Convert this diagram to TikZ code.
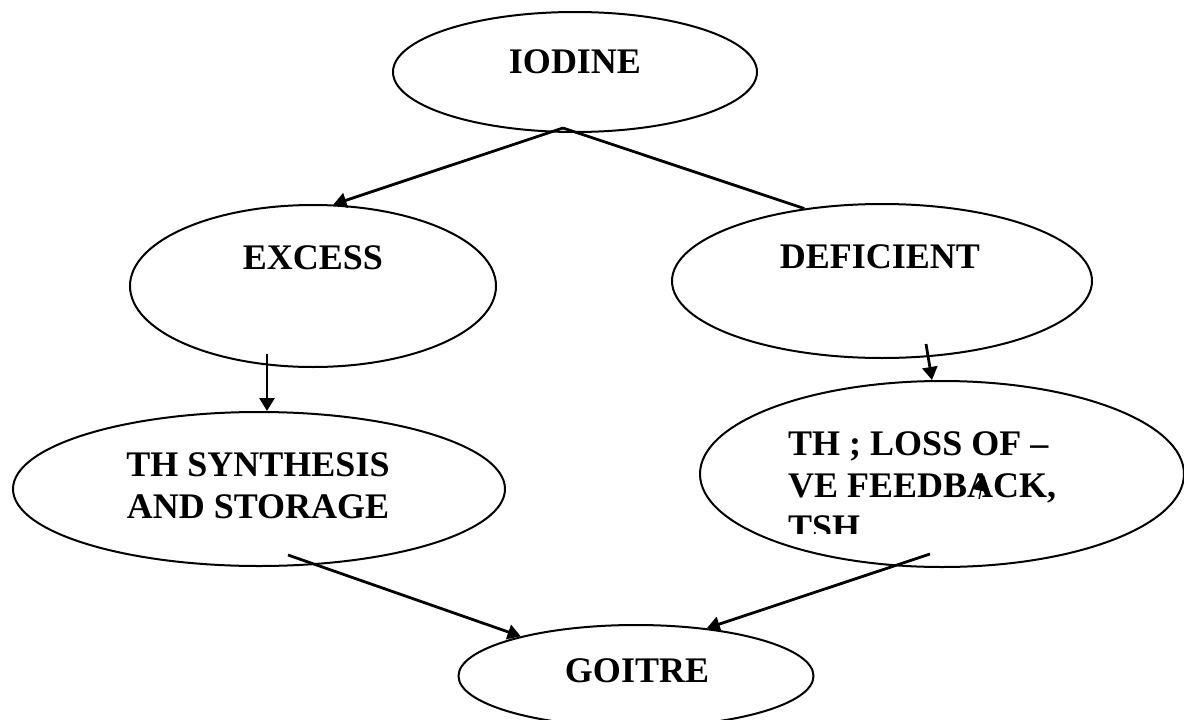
\documentclass[tikz,border=0pt]{standalone}
\usepackage{fontspec}
\setmainfont{Liberation Serif}
\usetikzlibrary{shapes.geometric,arrows.meta}

\begin{document}
\begin{tikzpicture}[x=1pt,y=-1pt,>={Triangle[width=15pt,length=13pt]},
    oval/.style={draw,ellipse,line width=2pt,inner sep=0pt},
    word/.style={font=\bfseries\fontsize{36}{42}\selectfont,inner sep=0pt},
    link/.style={line width=2.8pt}]
  \useasboundingbox (0,0) rectangle (1184,720);

  % Ovals, sized and placed by hand.
  \node[oval,minimum width=364pt,minimum height=120pt] (iodine) at (575,72) {};
  \node[oval,minimum width=366pt,minimum height=162pt] (excess) at (313,286) {};
  \node[oval,minimum width=420pt,minimum height=154pt] (deficient) at (882,281) {};
  \node[oval,minimum width=492pt,minimum height=154pt] (thsyn) at (259,489) {};
  \node[oval,minimum width=484pt,minimum height=186pt] (thloss) at (942,474) {};
  \node[oval,minimum width=355pt,minimum height=102pt] (goitre) at (636,676) {};

  \node[word] (iodineText) at (575,62) {IODINE};
  \node[word] (excessText) at (313,258) {EXCESS};
  \node[word] (deficientText) at (880,257) {DEFICIENT};
  \node[word,align=center] (thsynText) at (258,486) {TH SYNTHESIS\\AND STORAGE};
  \node[word] (goitreText) at (637,671) {GOITRE};
  \begin{scope}
  \clip (700,380) rectangle (1184,533);
  \node[word,align=left,anchor=north west] (thlossText) at (788,431)
    {TH ; LOSS OF --\\VE FEEDBACK,\\TSH};
  \end{scope}
  \draw[-{Triangle[width=18pt,length=16pt]},line width=1.4pt] (979,499) -- (984,475);

  \coordinate (split) at ([xshift=-12pt,yshift=5pt]iodine.south);
  \draw[link,->] (split) -- (excess.76);
  \draw[link] (split) -- (deficient.137);
  \draw[link,->] ([xshift=-46pt,yshift=14pt]excess.south) -- ([xshift=8pt]thsyn.north);
  \draw[link,->] ([xshift=44pt,yshift=15pt]deficient.south) -- ([xshift=-10pt]thloss.north);
  \draw[link,->] ([xshift=29pt,yshift=12pt]thsyn.south) -- (goitre.161);
  \draw[link,->] ([xshift=-12pt,yshift=14pt]thloss.south) -- (goitre.34);
\end{tikzpicture}
\end{document}
